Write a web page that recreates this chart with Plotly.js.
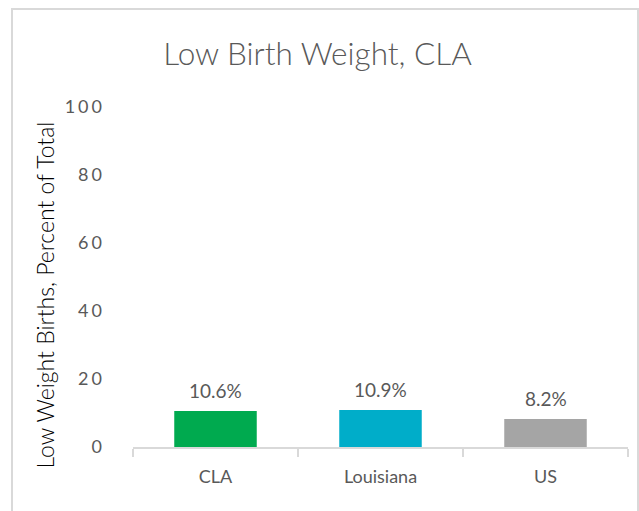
<!DOCTYPE html>
<html><head><meta charset="utf-8">
<script src="https://cdn.plot.ly/plotly-3.0.1.min.js"></script>
<style>
html,body{margin:0;padding:0;background:#fff;}
#chart{width:639px;height:511px;}
.ytick text{letter-spacing:3px;}
</style>
</head><body><div id="chart"></div>
<script>
const categories = ["CLA", "Louisiana", "US"];
const values = [10.6, 10.9, 8.2];
const valueLabels = ["10.6%", "10.9%", "8.2%"];
const barColors = ["#00AA4F", "#00ADC9", "#A5A5A5"];
const yTicks = [0, 20, 40, 60, 80, 100];

const gray = "#595959";
const FONT = "Lato, sans-serif";
const trace = {
  type: "bar", x: categories, y: values, width: 0.5,
  marker: {color: barColors}, hoverinfo: "none"
};
const annotations = categories.map((c, i) => ({
  x: c, y: values[i], xref: "x", yref: "y", text: valueLabels[i],
  showarrow: false, yanchor: "bottom", yshift: 7,
  font: {family: FONT, size: 19, color: gray, weight: 400}
}));
annotations.push({
  xref: "paper", yref: "paper", x: -0.178, y: 0.448, textangle: -90,
  text: "Low Weight Births, Percent of Total", showarrow: false,
  xanchor: "center", yanchor: "middle",
  font: {family: FONT, size: 23, color: "#000", weight: 300}
});
const layout = {
  width: 639, height: 511,
  margin: {l: 133, r: 11, t: 107, b: 64},
  paper_bgcolor: "#fff", plot_bgcolor: "#fff",
  showlegend: false,
  title: {text: "Low Birth Weight, CLA", x: 0.497, xanchor: "center", y: 0.895, yanchor: "middle",
    font: {family: FONT, size: 31.5, color: gray, weight: 300}},
  xaxis: {type: "category", showline: true, linecolor: "#D9D9D9", linewidth: 1.5,
    ticks: "outside", tickson: "boundaries", ticklen: 8, tickcolor: "#D9D9D9", tickwidth: 1.5,
    ticklabelstandoff: 13,
    tickfont: {family: FONT, size: 18, color: gray, weight: 400},
    showgrid: false, zeroline: false, fixedrange: true},
  yaxis: {range: [0, 100], tickvals: yTicks, ticktext: yTicks.map(String),
    showgrid: false, zeroline: false, showline: false, ticks: "",
    ticklabelstandoff: 27,
    tickfont: {family: FONT, size: 18, color: gray, weight: 400}, fixedrange: true},
  annotations: annotations,
  shapes: [{type: "rect", xref: "paper", yref: "paper",
    x0: (12 - 133) / 495, x1: (638 - 133) / 495, y0: (447 - 530) / 340, y1: (447 - 9) / 340,
    line: {color: "#D9D9D9", width: 2}, fillcolor: "rgba(0,0,0,0)", layer: "below"}]
};
Plotly.newPlot("chart", [trace], layout, {displayModeBar: false, staticPlot: true});
</script></body></html>
